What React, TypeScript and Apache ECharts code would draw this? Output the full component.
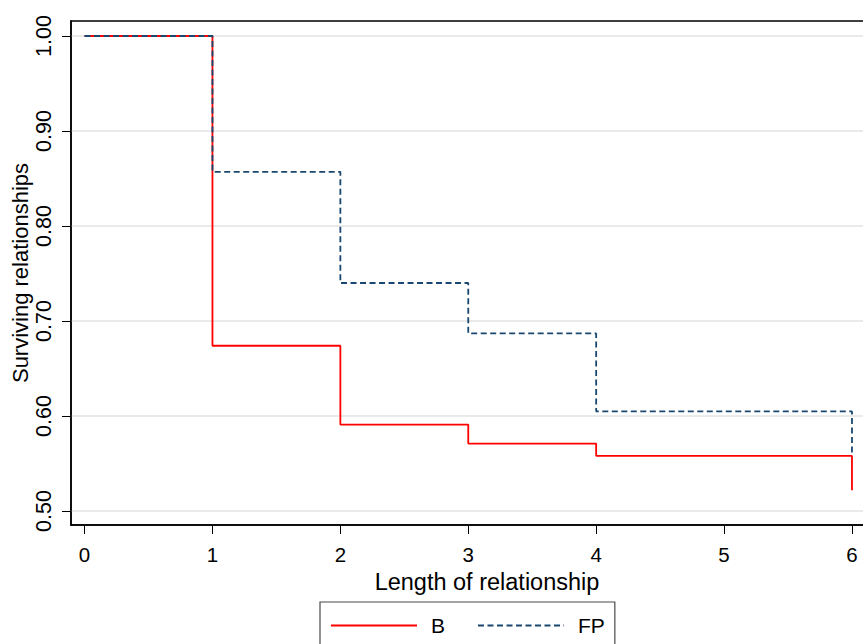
import React, { useEffect, useRef } from "react";
import * as echarts from "echarts";

const timePoints = [0, 1, 2, 3, 4, 6];
const survivalB = [1.0, 0.674, 0.591, 0.571, 0.558, 0.522];
const survivalFP = [1.0, 0.857, 0.74, 0.687, 0.605, 0.558];
const xTicks = [0, 1, 2, 3, 4, 5, 6];
const yTicks = [0.5, 0.6, 0.7, 0.8, 0.9, 1.0];

const FONT = "Arial, 'Liberation Sans', sans-serif";

export default function App() {
  const ref = useRef<HTMLDivElement>(null);
  useEffect(() => {
    if (!ref.current) return;
    const chart = echarts.init(ref.current, undefined, { renderer: "svg" });
    const toPairs = (ys: number[]) => timePoints.map((t, i) => [t, ys[i]]);
    chart.setOption({
      animation: false,
      backgroundColor: "#ffffff",
      textStyle: { fontFamily: FONT },
      grid: {
        left: 71,
        top: 21,
        right: -40,
        bottom: 119,
        show: true,
        borderColor: "#000000",
        borderWidth: 1.5,
        containLabel: false,
        outerBoundsMode: "none",
      },
      legend: {
        top: 602,
        left: 320,
        padding: [13, 10, 30, 10],
        itemGap: 32,
        itemWidth: 86,
        itemHeight: 18,
        borderColor: "#4a4a4a",
        borderWidth: 1.2,
        itemStyle: { opacity: 0 },
        textStyle: { fontSize: 21, color: "#000", fontFamily: FONT, padding: [0, 0, 0, 9] },
        data: ["B", "FP"],
      },
      xAxis: {
        type: "value",
        min: -0.106,
        max: 6.399,
        name: "Length of relationship",
        nameLocation: "middle",
        nameGap: 41,
        nameTextStyle: { fontSize: 23.5, color: "#000", fontFamily: FONT },
        axisLine: { show: true, onZero: false, lineStyle: { color: "#000", width: 1.5 } },
        axisTick: { show: true, length: 9, customValues: xTicks, lineStyle: { color: "#000", width: 1 } },
        axisLabel: { customValues: xTicks, fontSize: 20.5, color: "#000", margin: 19, fontFamily: FONT },
        splitLine: { show: false },
      },
      yAxis: {
        type: "value",
        min: 0.4853,
        max: 1.0158,
        name: "Surviving relationships",
        nameLocation: "middle",
        nameGap: 40,
        nameMoveOverlap: false,
        nameRotate: 90,
        nameTextStyle: { fontSize: 22, color: "#000", fontFamily: FONT },
        axisLine: { show: true, onZero: false, lineStyle: { color: "#000", width: 1.5 } },
        axisTick: { show: true, length: 9, customValues: yTicks, lineStyle: { color: "#000", width: 1 } },
        axisLabel: {
          customValues: yTicks,
          rotate: 90,
          fontSize: 21.5,
          color: "#000",
          margin: 16,
          fontFamily: FONT,
          formatter: (v: number) => v.toFixed(2),
        },
        splitLine: { show: true, lineStyle: { color: "#e3e3e3", width: 1.5 } },
      },
      series: [
        {
          name: "B",
          type: "line",
          step: "end",
          data: toPairs(survivalB),
          symbol: "none",
          color: "#ff0000",
          lineStyle: { color: "#ff0000", width: 1.8 },
        },
        {
          name: "FP",
          type: "line",
          step: "end",
          data: toPairs(survivalFP),
          symbol: "none",
          color: "#1a476f",
          lineStyle: { color: "#1a476f", width: 1.8, type: [6, 3.5] },
        },
      ],
    });
    return () => chart.dispose();
  }, []);
  return (
    <div
      ref={ref}
      style={{ position: "fixed", left: 0, top: 0, width: 863, height: 644, background: "#fff" }}
    />
  );
}
